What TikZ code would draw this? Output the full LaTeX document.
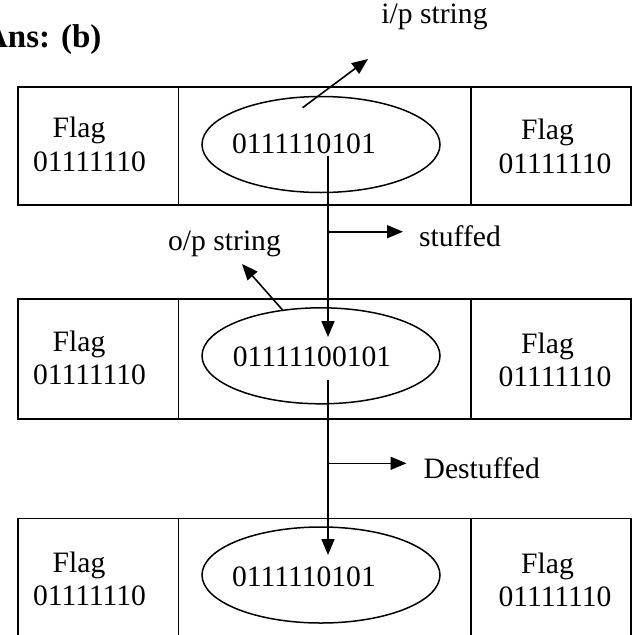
\documentclass[tikz,border=0pt]{standalone}
\usepackage{fontspec}
\setmainfont{Liberation Serif}
\usetikzlibrary{arrows.meta,shapes.geometric}

\begin{document}
\begin{tikzpicture}[x=1pt,y=-1pt,
  cell/.style={draw, line width=1.7pt, rectangle, anchor=north west, inner sep=0pt},
  oval/.style={draw, line width=1.5pt, ellipse, minimum width=238pt, minimum height=96pt, inner sep=0pt},
  txt/.style={font=\fontsize{29.6pt}{34pt}\selectfont, anchor=base, inner sep=0pt},
  arr/.style={line width=1.6pt, -{Triangle[length=16pt,width=13pt]}},
]
\useasboundingbox (0,0) rectangle (632,635);
\clip (0,0) rectangle (632,635);

% heading
\node[font=\fontsize{33pt}{38pt}\selectfont\bfseries, anchor=base east, inner sep=0pt] (ans) at (101.7,47) {Ans: (b)};

% frame 1: input
\node[cell, minimum width=160.5pt, minimum height=118pt] (l1) at (17,86) {};
\node[cell, minimum width=292.5pt, minimum height=118pt] (m1) at (177.5,86) {};
\node[cell, minimum width=160pt, minimum height=118pt] (r1) at (470,86) {};
\node[oval] (e1) at (321,144.5) {};
\node[txt] (d1) at (304,153) {0111110101};
\node[txt] (fa1) at (79,137.5) {Flag};
\node[txt] (fb1) at (89.5,171) {01111110};
\node[txt] (ga1) at (547.5,139.5) {Flag};
\node[txt] (gb1) at (555,173) {01111110};

% frame 2: after stuffing
\node[cell, minimum width=160.5pt, minimum height=120pt] (l2) at (17,298.3) {};
\node[cell, minimum width=292.5pt, minimum height=120pt] (m2) at (177.5,298.3) {};
\node[cell, minimum width=160pt, minimum height=120pt] (r2) at (470,298.3) {};
\node[oval] (e2) at (321,355.8) {};
\node[txt] (d2) at (312,366.7) {01111100101};
\node[txt] (fa2) at (79,351) {Flag};
\node[txt] (fb2) at (89.5,384.5) {01111110};
\node[txt] (ga2) at (547.5,353) {Flag};
\node[txt] (gb2) at (555,386.5) {01111110};

% frame 3: after destuffing (runs off the bottom)
\node[cell, minimum width=160.5pt, minimum height=140pt] (l3) at (17,517.7) {};
\node[cell, minimum width=292.5pt, minimum height=140pt] (m3) at (177.5,517.7) {};
\node[cell, minimum width=160pt, minimum height=140pt] (r3) at (470,517.7) {};
\node[oval] (e3) at (321,575) {};
\node[txt] (d3) at (304,586.7) {0111110101};
\node[txt] (fa3) at (79,572) {Flag};
\node[txt] (fb3) at (89.5,605) {01111110};
\node[txt] (ga3) at (547.5,573.5) {Flag};
\node[txt] (gb3) at (555,606.5) {01111110};

% labels
\node[txt] (ip) at (434.5,23) {i/p string};
\node[txt] (op) at (224.5,250) {o/p string};
\node[txt, anchor=base west] (st) at (419,246) {stuffed};
\node[txt, anchor=base west] (ds) at (423.5,478) {Destuffed};

% connectors
\coordinate (ip0) at (302.6,107.7);
\coordinate (ip1) at (368,59);
\draw[arr] (ip0) -- (ip1);

\coordinate (a1s) at (328,156);
\coordinate (a1e) at (328,337);
\draw[arr] (a1s) -- (a1e);
\coordinate (b1) at (328,231.7);
\draw[arr, shorten >=16pt] (b1) -- (b1 -| st.west);

\coordinate (op0) at (283,310.5);
\coordinate (op1) at (242,264);
\draw[arr] (op0) -- (op1);

\coordinate (a2s) at (328,380);
\coordinate (a2e) at (328,555);
\draw[arr] (a2s) -- (a2e);
\coordinate (b2) at (328,463.3);
\draw[arr, shorten >=17pt] (b2) -- (b2 -| ds.west);
\end{tikzpicture}
\end{document}
